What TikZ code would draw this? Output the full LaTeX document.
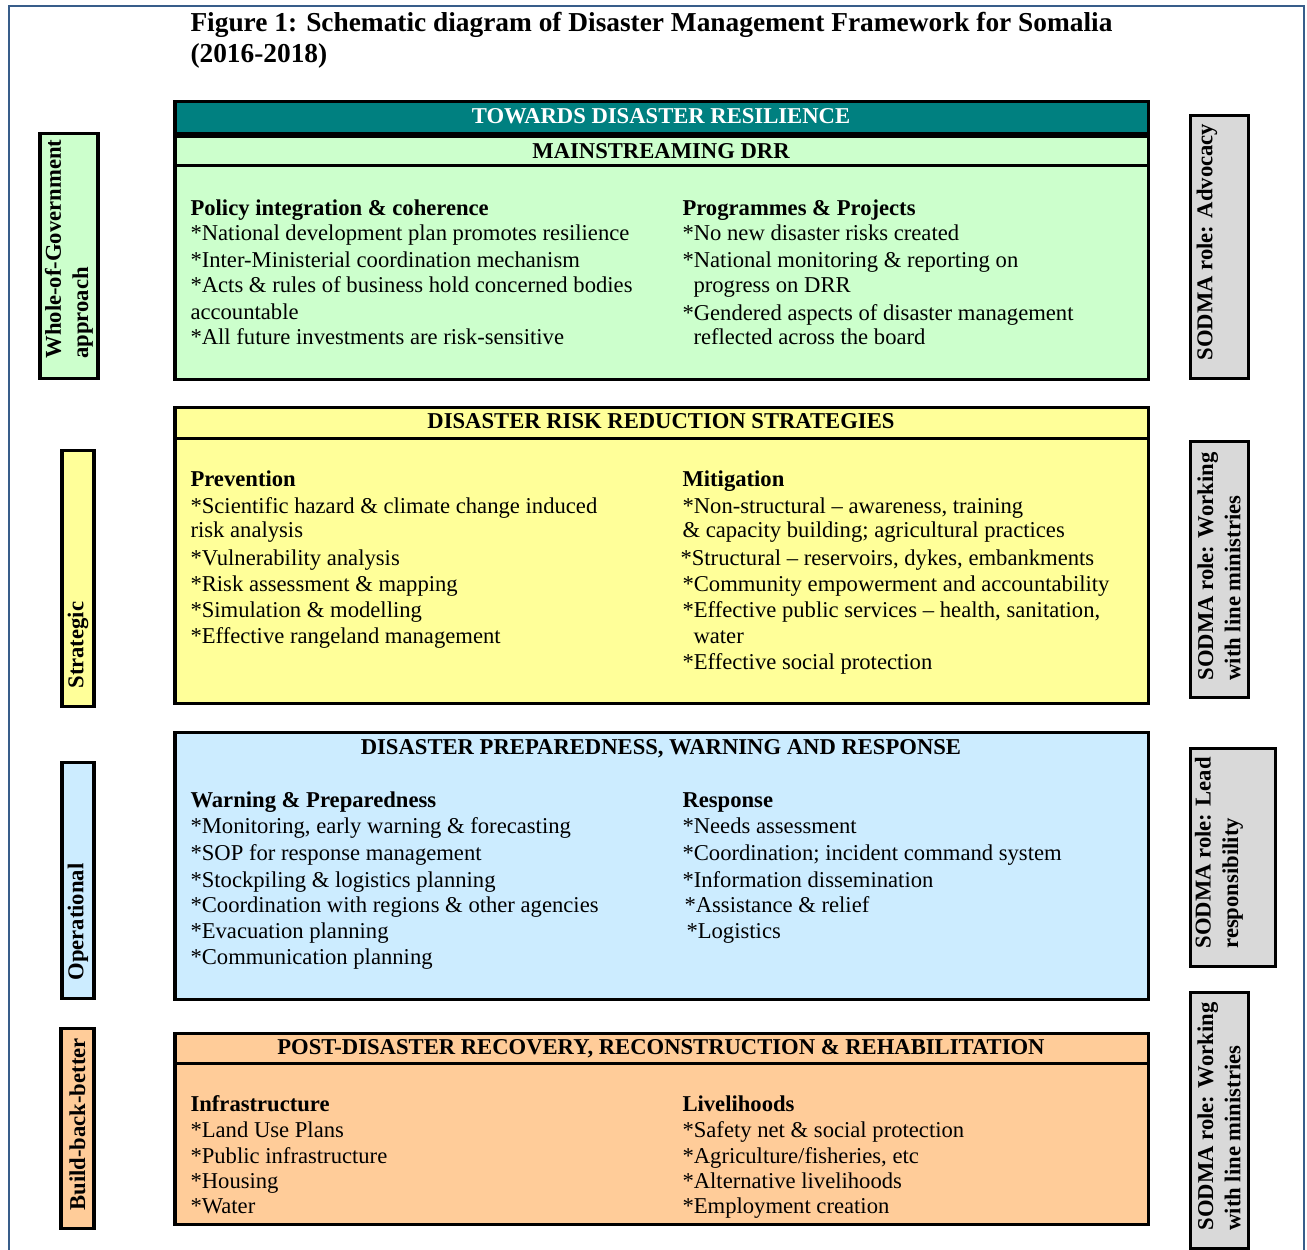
\documentclass[tikz,border=0pt,12pt]{standalone}
\usepackage{fontspec}
\setmainfont{Liberation Serif}

\definecolor{frameBlue}{HTML}{385D8A}
\definecolor{drrTeal}{HTML}{008080}
\definecolor{drrGreen}{HTML}{CCFFCC}
\definecolor{drrYellow}{HTML}{FFFF99}
\definecolor{drrBlue}{HTML}{CCECFF}
\definecolor{drrPeach}{HTML}{FFCC99}
\definecolor{drrGray}{HTML}{D9D9D9}

\tikzset{
  head/.style={anchor=base, font=\bfseries},
  sub/.style={anchor=base west, font=\bfseries},
  item/.style={anchor=base west},
  tag/.style={rotate=90, anchor=west, align=left, font=\bfseries},
}

\begin{document}
\begin{tikzpicture}[x=0.53pt,y=-0.53pt,line width=1.6pt,every node/.style={inner sep=0pt}]
\useasboundingbox (0,0) rectangle (1307,1249);

% ----- page frame and title -----
\draw[line width=1pt,frameBlue] (9,1260) -- (9,6) -- (1304,6) -- (1304,1260);
\node[anchor=base west,font=\fontsize{14.5}{17}\selectfont\bfseries] (title1) at (189,31)
  {Figure 1: Schematic diagram of Disaster Management Framework for Somalia};
\node[anchor=base west,font=\fontsize{14.5}{17}\selectfont\bfseries] (title2) at (189,62) {(2016-2018)};

% ----- helper: side tag box with rotated text -----
% \Tag{name}{x1}{y1}{x2}{y2}{fill}{x}{y}{text}
\newcommand{\Tag}[9]{%
  \draw[fill=#6] (#2,#3) rectangle (#4,#5);
  \node[tag] (#1) at (#7,#8) {#9};
}

% left tags
\Tag{wog}{40}{133}{98}{378}{drrGreen}{69}{360}{Whole-of-Government\\approach}
\Tag{strat}{62}{450}{94}{706}{drrYellow}{78}{690}{Strategic}
\Tag{oper}{62}{762}{94}{998}{drrBlue}{78}{982}{Operational}
\Tag{bbb}{61}{1028}{94}{1228}{drrPeach}{77.5}{1212}{Build-back-better}

% right tags (SODMA role)
\Tag{adv}{1190}{115}{1248}{378}{drrGray}{1207}{362}{SODMA role: Advocacy}
\Tag{work1}{1190}{441}{1248}{697}{drrGray}{1219}{682}{SODMA role: Working\\with line ministries}
\Tag{lead}{1190}{748}{1275}{966}{drrGray}{1219}{950}{SODMA role: Lead\\responsibility}
\Tag{work2}{1190}{992}{1248}{1248}{drrGray}{1219}{1232}{SODMA role: Working\\with line ministries}

% ----- box 1: towards resilience / mainstreaming -----
\fill[drrGreen] (175,101) rectangle (1148,379);
\fill[drrTeal] (175,101) rectangle (1148,135);
\draw[line width=3pt] (175,135) -- (1148,135);
\draw (175,165) -- (1148,165);
\draw (175,101) rectangle (1148,379);
\node[head,text=white] (hdTop) at (661,123) {TOWARDS DISASTER RESILIENCE};
\node[head] (hdMain) at (661,158) {MAINSTREAMING DRR};

\node[sub]  (pol)  at (189,215) {Policy integration \& coherence};
\node[item] (pol1) at (189,240) {*National development plan promotes resilience};
\node[item] (pol2) at (189,267) {*Inter-Ministerial coordination mechanism};
\node[item] (pol3) at (189,292) {*Acts \& rules of business hold concerned bodies};
\node[item] (pol4) at (189,319) {accountable};
\node[item] (pol5) at (189,344) {*All future investments are risk-sensitive};

\node[sub]  (prg)  at (681,215) {Programmes \& Projects};
\node[item] (prg1) at (681,240) {*No new disaster risks created};
\node[item] (prg2) at (681,267) {*National monitoring \& reporting on};
\node[item] (prg3) at (692,292) {progress on DRR};
\node[item] (prg4) at (681,320) {*Gendered aspects of disaster management};
\node[item] (prg5) at (692,344) {reflected across the board};

% ----- box 2: risk reduction -----
\draw[fill=drrYellow] (175,407) rectangle (1148,703);
\draw (175,438) -- (1148,438);
\node[head] (hdDrr) at (661,428) {DISASTER RISK REDUCTION STRATEGIES};

\node[sub]  (prv)  at (189,486) {Prevention};
\node[item] (prv1) at (189,513) {*Scientific hazard \& climate change induced};
\node[item] (prv2) at (189,537) {risk analysis};
\node[item] (prv3) at (189,565) {*Vulnerability analysis};
\node[item] (prv4) at (189,591) {*Risk assessment \& mapping};
\node[item] (prv5) at (189,617) {*Simulation \& modelling};
\node[item] (prv6) at (189,643) {*Effective rangeland management};

\node[sub]  (mit)  at (681,486) {Mitigation};
\node[item] (mit1) at (681,513) {*Non-structural -- awareness, training};
\node[item] (mit2) at (681,537) {\& capacity building; agricultural practices};
\node[item] (mit3) at (679,565) {*Structural -- reservoirs, dykes, embankments};
\node[item] (mit4) at (681,591) {*Community empowerment and accountability};
\node[item] (mit5) at (681,617) {*Effective public services -- health, sanitation,};
\node[item] (mit6) at (692,643) {water};
\node[item] (mit7) at (681,669) {*Effective social protection};

% ----- box 3: preparedness & response -----
\draw[fill=drrBlue] (175,732) rectangle (1148,999);
\node[head] (hdPrep) at (661,754) {DISASTER PREPAREDNESS, WARNING AND RESPONSE};

\node[sub]  (wrn)  at (189,807) {Warning \& Preparedness};
\node[item] (wrn1) at (189,833) {*Monitoring, early warning \& forecasting};
\node[item] (wrn2) at (189,860) {*SOP for response management};
\node[item] (wrn3) at (189,887) {*Stockpiling \& logistics planning};
\node[item] (wrn4) at (189,912) {*Coordination with regions \& other agencies};
\node[item] (wrn5) at (189,938) {*Evacuation planning};
\node[item] (wrn6) at (189,964) {*Communication planning};

\node[sub]  (rsp)  at (681,807) {Response};
\node[item] (rsp1) at (681,833) {*Needs assessment};
\node[item] (rsp2) at (681,860) {*Coordination; incident command system};
\node[item] (rsp3) at (681,887) {*Information dissemination};
\node[item] (rsp4) at (683,912) {*Assistance \& relief};
\node[item] (rsp5) at (685,938) {*Logistics};

% ----- box 4: recovery -----
\draw[fill=drrPeach] (175,1033) rectangle (1148,1224);
\draw (175,1063) -- (1148,1063);
\node[head] (hdPost) at (661,1054) {POST-DISASTER RECOVERY, RECONSTRUCTION \& REHABILITATION};

\node[sub]  (inf)  at (189,1111) {Infrastructure};
\node[item] (inf1) at (189,1137) {*Land Use Plans};
\node[item] (inf2) at (189,1163) {*Public infrastructure};
\node[item] (inf3) at (189,1188) {*Housing};
\node[item] (inf4) at (189,1213) {*Water};

\node[sub]  (liv)  at (681,1111) {Livelihoods};
\node[item] (liv1) at (681,1137) {*Safety net \& social protection};
\node[item] (liv2) at (681,1163) {*Agriculture/fisheries, etc};
\node[item] (liv3) at (681,1188) {*Alternative livelihoods};
\node[item] (liv4) at (681,1213) {*Employment creation};

\end{tikzpicture}
\end{document}
